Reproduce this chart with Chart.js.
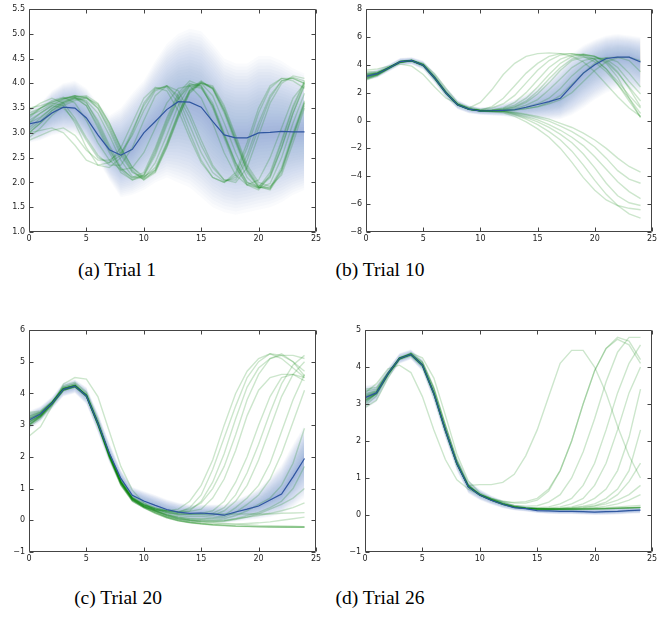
<!DOCTYPE html>
<html>
<head>
<meta charset="utf-8">
<script src="https://cdn.jsdelivr.net/npm/chart.js@4.4.1/dist/chart.umd.min.js"></script>
<style>
  body { margin: 0; background: #fff; width: 667px; height: 618px; position: relative; overflow: hidden; }
  .panel { position: absolute; }
  .cap { position: absolute; width: 200px; text-align: center; white-space: nowrap; color: #000;
         font-family: "Liberation Serif", "Times New Roman", serif; font-size: 19.5px; line-height: 20px; }
</style>
</head>
<body>
<div class="panel" style="left:0;top:0"><canvas id="ca" width="330" height="250"></canvas></div>
<div class="panel" style="left:336px;top:0"><canvas id="cb" width="330" height="250"></canvas></div>
<div class="panel" style="left:0;top:321px"><canvas id="cc" width="330" height="249"></canvas></div>
<div class="panel" style="left:336px;top:321px"><canvas id="cd" width="330" height="249"></canvas></div>
<div class="cap" style="left:17px;top:260px">(a) Trial 1</div>
<div class="cap" style="left:280px;top:260px">(b) Trial 10</div>
<div class="cap" style="left:18px;top:588px">(c) Trial 20</div>
<div class="cap" style="left:280px;top:588px">(d) Trial 26</div>
<script>
/* Trials 1/10/20/26: predicted mean (blue), spread band, sampled rollouts (green) */

// ── Shared x steps ───────────────────────────────────────────────────────────
const steps = [0, 1, 2, 3, 4, 5, 6, 7, 8, 9, 10, 11, 12, 13, 14, 15, 16, 17, 18, 19, 20, 21, 22, 23, 24];

// ── (a) Trial 1 ──────────────────────────────────────────────────────────────
const meanA = [3.18,3.23,3.40,3.52,3.50, 3.30,2.96,2.66,2.55,2.67, 3.00,3.23,3.47,3.63,3.62, 3.52,3.23,2.96,2.90,2.90, 3.00,3.01,3.03,3.02,3.02];
const upA   = [3.50,3.60,3.85,4.00,4.05, 3.90,3.60,3.35,3.50,3.80, 4.05,4.45,4.80,5.00,5.10, 5.05,4.80,4.50,4.40,4.40, 4.55,4.55,4.45,4.30,4.20];
const loA   = [2.80,2.85,2.95,3.00,3.00, 2.80,2.45,2.05,1.70,1.75, 1.85,2.00,2.10,2.00,1.90, 1.70,1.50,1.40,1.35,1.40, 1.45,1.50,1.60,1.75,1.85];
const greenA = [
  [3.00,3.20,3.40,3.58,3.68, 3.72,3.55,3.15,2.65,2.25, 2.05,2.20,2.70,3.30,3.80, 4.00,3.90,3.45,2.85,2.25, 1.92,1.85,2.20,2.90,3.55],
  [3.20,3.32,3.50,3.62,3.72, 3.75,3.60,3.20,2.70,2.30, 2.08,2.22,2.72,3.32,3.82, 4.02,3.92,3.50,2.90,2.30, 1.95,1.88,2.25,2.95,3.60],
  [3.35,3.45,3.58,3.68,3.75, 3.72,3.50,3.05,2.55,2.20, 2.10,2.30,2.80,3.40,3.88, 4.05,3.88,3.40,2.80,2.20, 1.90,1.90,2.30,3.00,3.65],
  [2.90,3.10,3.35,3.55,3.65, 3.70,3.58,3.20,2.70,2.30, 2.12,2.25,2.75,3.35,3.85, 4.00,3.95,3.55,2.95,2.35, 2.00,1.92,2.15,2.80,3.50],
  [3.10,3.30,3.50,3.65,3.72, 3.60,3.25,2.75,2.30,2.08, 2.15,2.60,3.20,3.70,3.98, 3.95,3.60,3.00,2.40,2.00, 1.88,2.10,2.70,3.40,3.98],
  [3.25,3.40,3.55,3.68,3.75, 3.62,3.20,2.70,2.25,2.05, 2.15,2.65,3.25,3.75,4.00, 3.92,3.55,2.95,2.35,1.95, 1.85,2.15,2.80,3.50,4.02],
  [3.00,3.20,3.45,3.60,3.70, 3.55,3.15,2.65,2.28,2.10, 2.20,2.70,3.30,3.80,4.05, 3.95,3.50,2.90,2.30,1.95, 1.90,2.20,2.85,3.55,4.05],
  [3.40,3.50,3.62,3.70,3.72, 3.55,3.10,2.60,2.20,2.05, 2.12,2.55,3.15,3.68,3.95, 3.90,3.55,2.95,2.40,2.00, 1.92,2.12,2.70,3.40,3.95],
  [3.50,3.55,3.62,3.70,3.75, 3.70,3.50,3.10,2.60,2.22, 2.05,2.25,2.78,3.38,3.85, 4.03,3.90,3.45,2.85,2.25, 1.90,1.87,2.25,2.95,3.62],
  [3.05,3.25,3.45,3.62,3.70, 3.65,3.40,2.95,2.45,2.12, 2.08,2.40,2.95,3.55,3.95, 4.00,3.75,3.20,2.60,2.10, 1.88,1.98,2.50,3.20,3.80],
  [3.30,3.50,3.65,3.72,3.60, 3.25,2.80,2.45,2.25,2.30, 2.60,3.10,3.60,3.90,3.95, 3.70,3.20,2.60,2.15,1.95, 2.05,2.50,3.10,3.70,4.00],
  [3.35,3.50,3.60,3.55,3.20, 2.70,2.35,2.30,2.50,3.00, 3.60,3.90,3.92,3.60,3.00, 2.45,2.10,2.00,2.15,2.70, 3.40,3.90,4.10,4.10,4.00],
  [3.20,3.40,3.55,3.50,3.25, 2.85,2.50,2.40,2.55,3.05, 3.55,3.88,3.95,3.70,3.15, 2.60,2.20,2.02,2.10,2.55, 3.20,3.75,4.05,4.12,4.05],
  [3.45,3.60,3.70,3.60,3.30, 2.90,2.55,2.35,2.35,2.70, 3.25,3.75,3.95,3.85,3.40, 2.85,2.35,2.05,2.00,2.30, 2.95,3.60,4.00,4.15,4.10],
  [3.00,3.05,3.10,3.00,2.75, 2.45,2.35,2.40,2.70,3.20, 3.70,3.92,3.85,3.45,2.90, 2.40,2.10,2.00,2.20,2.80, 3.50,3.95,4.10,4.05,3.90],
  [2.85,2.95,3.05,3.10,2.95, 2.65,2.45,2.45,2.60,2.95, 3.45,3.85,3.95,3.75,3.30, 2.75,2.30,2.05,2.05,2.45, 3.10,3.70,4.05,4.10,4.00]
];

// ── (b) Trial 10 ─────────────────────────────────────────────────────────────
const meanB = [3.17,3.36,3.77,4.22,4.29, 3.96,3.05,1.97,1.13,0.82, 0.68,0.70,0.73,0.77,0.95, 1.15,1.35,1.60,2.50,3.40, 4.00,4.45,4.55,4.55,4.20];
const upB   = [3.50,3.70,4.05,4.50,4.55, 4.30,3.45,2.40,1.50,1.10, 0.95,1.00,1.20,1.50,1.90, 2.40,3.00,3.90,4.80,5.40, 5.80,6.10,6.20,6.10,6.00];
const loB   = [2.85,3.05,3.50,3.95,4.00, 3.65,2.70,1.60,0.80,0.50, 0.40,0.35,0.30,0.20,0.10, 0.05,0.05,0.10,0.40,0.90, 1.50,2.00,2.30,2.20,2.00];
const greenB = [
  [3.10,3.30,3.80,4.25,4.30, 4.00,3.10,2.00,1.15,0.90, 1.30,2.20,3.30,4.10,4.60, 4.80,4.85,4.80,4.60,4.20, 3.50,2.60,1.70,0.90,0.30],
  [3.30,3.40,3.80,4.25,4.35, 4.05,3.20,2.10,1.20,0.82, 0.75,1.00,1.60,2.50,3.40, 4.10,4.60,4.80,4.80,4.60, 4.20,3.50,2.60,1.60,0.50],
  [3.50,3.50,3.85,4.20,4.25, 3.90,2.95,1.90,1.10,0.80, 0.70,0.75,0.90,1.30,2.00, 2.90,3.80,4.40,4.70,4.75, 4.60,4.20,3.40,2.40,1.40],
  [2.90,3.20,3.70,4.15,4.30, 4.10,3.35,2.30,1.30,0.85, 0.72,0.72,0.80,1.00,1.40, 2.10,3.00,3.80,4.40,4.70, 4.60,4.30,3.50,2.30,1.00],
  [3.20,3.40,3.80,4.20,4.30, 3.95,3.00,1.95,1.12,0.80, 0.70,0.70,0.75,0.85,1.10, 1.50,2.20,3.00,3.80,4.30, 4.50,4.40,3.80,2.80,1.90],
  [3.00,3.30,3.75,4.20,4.30, 4.00,3.10,2.00,1.15,0.82, 0.70,0.70,0.72,0.80,0.95, 1.20,1.60,2.30,3.20,3.90, 4.40,4.50,4.20,3.40,2.40],
  [3.40,3.45,3.80,4.25,4.30, 3.95,3.05,1.95,1.12,0.80, 0.68,0.68,0.70,0.75,0.85, 1.00,1.30,1.80,2.60,3.40, 4.10,4.50,4.55,4.30,3.50],
  [3.10,3.35,3.75,4.20,4.28, 3.98,3.08,2.00,1.15,0.82, 0.70,0.70,0.72,0.76,0.85, 0.98,1.20,1.50,2.00,2.80, 3.60,4.20,4.50,4.55,4.30],
  [3.25,3.40,3.78,4.22,4.30, 3.98,3.05,1.98,1.14,0.82, 0.70,0.72,0.80,0.95,1.30, 1.90,2.70,3.60,4.30,4.55, 4.40,3.70,2.60,1.40,0.25],
  [2.95,3.25,3.72,4.18,4.28, 4.02,3.15,2.05,1.18,0.84, 0.72,0.75,0.85,1.10,1.60, 2.40,3.30,4.10,4.60,4.75, 4.60,4.10,3.10,1.60,0.20],
  [3.60,3.70,3.90,4.05,3.90, 3.30,2.40,1.60,1.20,0.95, 0.80,0.90,1.20,1.80,2.70, 3.60,4.30,4.70,4.80,4.70, 4.40,3.70,2.80,1.80,0.90],
  [3.15,3.35,3.78,4.22,4.28, 3.95,3.02,1.95,1.12,0.80, 0.68,0.62,0.55,0.30,-0.10, -0.60,-1.20,-2.00,-3.00,-4.10, -5.00,-5.70,-6.10,-6.30,-6.40],
  [3.05,3.30,3.75,4.20,4.28, 3.95,3.05,1.98,1.14,0.82, 0.70,0.65,0.60,0.40,0.10, -0.30,-0.80,-1.40,-2.20,-3.20, -4.30,-5.30,-6.10,-6.70,-7.00],
  [3.30,3.40,3.80,4.22,4.30, 3.98,3.05,1.98,1.14,0.82, 0.70,0.68,0.65,0.45,0.20, -0.10,-0.50,-1.00,-1.60,-2.40, -3.40,-4.50,-5.40,-5.90,-6.10],
  [3.20,3.38,3.78,4.22,4.30, 3.96,3.04,1.96,1.13,0.81, 0.69,0.69,0.66,0.50,0.30, 0.05,-0.30,-0.70,-1.20,-1.80, -2.60,-3.50,-4.40,-5.10,-5.60],
  [3.00,3.28,3.74,4.20,4.28, 3.96,3.06,1.98,1.14,0.82, 0.70,0.70,0.68,0.55,0.40, 0.20,-0.05,-0.40,-0.80,-1.30, -1.90,-2.70,-3.60,-4.20,-4.50],
  [3.35,3.42,3.80,4.24,4.30, 3.96,3.04,1.96,1.13,0.81, 0.69,0.69,0.68,0.60,0.45, 0.30,0.10,-0.20,-0.50,-0.90, -1.40,-2.00,-2.70,-3.30,-3.70]
];

// ── (c) Trial 20 ─────────────────────────────────────────────────────────────
const meanC = [3.16,3.35,3.69,4.13,4.23, 3.92,3.06,2.11,1.32,0.79, 0.61,0.47,0.34,0.26,0.22, 0.23,0.20,0.16,0.26,0.35, 0.45,0.64,0.83,1.37,1.95];
const upC   = [3.45,3.60,3.90,4.35,4.45, 4.20,3.40,2.45,1.60,1.05, 0.92,0.80,0.66,0.56,0.50, 0.50,0.50,0.50,0.65,0.80, 1.00,1.35,1.75,2.40,3.00];
const loC   = [2.85,3.10,3.50,3.90,4.00, 3.65,2.75,1.80,1.05,0.55, 0.35,0.20,0.05,-0.05,-0.10, -0.10,-0.10,-0.10,-0.05,0.00, 0.05,0.10,0.20,0.40,0.70];
const greenC = [
  [3.00,3.30,3.70,4.20,4.30, 3.90,3.00,1.95,1.10,0.60, 0.40,0.22,0.08,-0.02,-0.08, -0.12,-0.15,-0.17,-0.19,-0.20, -0.21,-0.22,-0.22,-0.22,-0.22],
  [3.20,3.35,3.72,4.25,4.35, 4.05,3.20,2.10,1.20,0.65, 0.42,0.25,0.10,0.00,-0.06, -0.10,-0.14,-0.16,-0.18,-0.19, -0.20,-0.21,-0.21,-0.22,-0.22],
  [3.40,3.45,3.75,4.20,4.30, 4.00,3.10,2.00,1.12,0.62, 0.40,0.22,0.08,-0.02,-0.07, -0.11,-0.14,-0.16,-0.18,-0.19, -0.20,-0.20,-0.21,-0.21,-0.21],
  [2.65,2.95,3.60,4.30,4.50, 4.45,3.90,2.80,1.70,0.95, 0.55,0.30,0.15,0.05,0.00, -0.05,-0.08,-0.10,-0.12,-0.14, -0.16,-0.17,-0.18,-0.19,-0.20],
  [3.02,3.26,3.66,4.12,4.22, 3.92,3.02,1.98,1.12,0.62, 0.40,0.24,0.10,0.00,-0.06, -0.10,-0.12,-0.12,-0.12,-0.10, -0.08,-0.05,0.00,0.05,0.10],
  [3.10,3.30,3.70,4.15,4.25, 3.95,3.05,2.00,1.15,0.65, 0.42,0.32,0.30,0.35,0.60, 1.10,1.90,3.00,4.00,4.70, 5.10,5.25,5.10,4.80,4.50],
  [3.25,3.38,3.70,4.10,4.20, 3.90,3.05,2.10,1.30,0.75, 0.55,0.40,0.30,0.25,0.40, 0.80,1.60,2.60,3.60,4.50, 5.00,5.25,5.20,5.00,4.70],
  [3.00,3.25,3.65,4.10,4.22, 3.95,3.10,2.10,1.25,0.70, 0.48,0.35,0.28,0.25,0.30, 0.60,1.20,2.10,3.20,4.20, 4.80,5.10,5.20,5.20,5.10],
  [3.12,3.32,3.70,4.14,4.24, 3.94,3.06,2.06,1.22,0.70, 0.50,0.38,0.30,0.28,0.35, 0.55,1.00,1.70,2.70,3.80, 4.60,5.10,5.25,5.00,4.55],
  [3.30,3.40,3.72,4.15,4.25, 3.92,3.00,2.00,1.20,0.70, 0.50,0.38,0.30,0.26,0.28, 0.35,0.70,1.30,2.20,3.30, 4.10,4.50,4.60,4.60,4.50],
  [3.15,3.32,3.70,4.15,4.25, 3.95,3.05,2.05,1.20,0.68, 0.48,0.35,0.25,0.20,0.20, 0.22,0.30,0.60,1.20,2.00, 3.00,3.90,4.50,4.60,4.40],
  [2.95,3.20,3.62,4.10,4.22, 3.95,3.10,2.10,1.25,0.72, 0.50,0.36,0.26,0.20,0.18, 0.18,0.22,0.40,0.80,1.50, 2.40,3.40,4.30,4.90,5.20],
  [3.20,3.36,3.70,4.15,4.25, 3.92,3.05,2.05,1.20,0.70, 0.48,0.34,0.22,0.15,0.12, 0.12,0.15,0.30,0.60,1.10, 1.90,2.90,3.90,4.60,5.00],
  [3.05,3.28,3.68,4.12,4.22, 3.92,3.05,2.05,1.20,0.68, 0.45,0.30,0.18,0.10,0.06, 0.05,0.08,0.15,0.40,0.70, 1.10,1.80,2.80,3.80,4.60],
  [3.35,3.42,3.72,4.15,4.25, 3.94,3.04,2.02,1.18,0.66, 0.44,0.30,0.18,0.10,0.05, 0.03,0.05,0.10,0.25,0.50, 0.80,1.30,2.10,3.10,4.10],
  [3.10,3.30,3.68,4.12,4.22, 3.92,3.05,2.04,1.18,0.66, 0.44,0.30,0.18,0.08,0.02, 0.00,0.00,0.05,0.15,0.30, 0.50,0.70,1.10,1.80,2.90],
  [3.00,3.25,3.65,4.10,4.20, 3.90,3.04,2.04,1.20,0.68, 0.45,0.30,0.16,0.06,0.00, -0.03,-0.04,-0.02,0.05,0.15, 0.25,0.40,0.60,1.00,1.70],
  [3.22,3.36,3.70,4.14,4.24, 3.93,3.06,2.08,1.22,0.70, 0.48,0.34,0.24,0.20,0.20, 0.20,0.20,0.20,0.20,0.20, 0.20,0.20,0.22,0.23,0.24],
  [3.08,3.30,3.70,4.15,4.25, 3.95,3.06,2.04,1.18,0.66, 0.44,0.28,0.14,0.05,0.00, -0.02,-0.02,0.00,0.05,0.10, 0.15,0.22,0.30,0.40,0.55],
  [3.28,3.40,3.72,4.16,4.25, 3.93,3.04,2.02,1.16,0.64, 0.42,0.26,0.12,0.03,-0.03, -0.05,-0.05,-0.03,0.02,0.10, 0.20,0.35,0.50,0.70,1.00]
];

// ── (d) Trial 26 ─────────────────────────────────────────────────────────────
const meanD = [3.17,3.30,3.82,4.23,4.34, 4.05,3.28,2.29,1.39,0.76, 0.54,0.40,0.29,0.20,0.17, 0.12,0.11,0.10,0.10,0.09, 0.08,0.09,0.10,0.12,0.13];
const upD   = [3.50,3.55,3.98,4.38,4.48, 4.22,3.50,2.52,1.60,0.95, 0.70,0.53,0.40,0.29,0.25, 0.21,0.20,0.19,0.19,0.19, 0.18,0.19,0.20,0.21,0.22];
const loD   = [2.85,3.05,3.66,4.08,4.20, 3.88,3.05,2.06,1.18,0.58, 0.40,0.28,0.18,0.12,0.09, 0.05,0.03,0.02,0.02,0.01, 0.00,0.00,0.01,0.03,0.04];
const greenD = [
  [3.00,3.30,3.80,4.25,4.35, 4.10,3.40,2.40,1.45,0.80, 0.55,0.42,0.30,0.22,0.18, 0.16,0.15,0.15,0.15,0.16, 0.16,0.17,0.18,0.19,0.20],
  [3.20,3.32,3.82,4.25,4.38, 4.15,3.45,2.45,1.50,0.82, 0.56,0.42,0.30,0.22,0.18, 0.16,0.16,0.16,0.16,0.17, 0.17,0.18,0.19,0.20,0.21],
  [3.40,3.45,3.85,4.22,4.32, 4.05,3.30,2.30,1.40,0.78, 0.54,0.40,0.29,0.21,0.18, 0.16,0.15,0.15,0.15,0.15, 0.16,0.17,0.18,0.19,0.20],
  [2.90,3.10,3.70,4.20,4.38, 4.25,3.70,2.70,1.65,0.92, 0.60,0.45,0.32,0.23,0.19, 0.17,0.16,0.16,0.16,0.16, 0.17,0.17,0.18,0.19,0.20],
  [3.10,3.28,3.78,4.24,4.36, 4.12,3.42,2.42,1.47,0.81, 0.55,0.41,0.30,0.22,0.18, 0.16,0.16,0.16,0.16,0.16, 0.17,0.18,0.19,0.20,0.21],
  [3.30,3.55,3.95,4.05,3.85, 3.20,2.30,1.50,0.95,0.70, 0.55,0.45,0.35,0.25,0.20, 0.17,0.16,0.16,0.17,0.18, 0.19,0.20,0.22,0.24,0.26],
  [3.10,3.30,3.80,4.20,4.30, 4.00,3.25,2.25,1.35,0.80, 0.82,0.82,0.88,1.10,1.60, 2.30,3.20,4.10,4.45,4.45, 4.00,3.30,2.40,1.60,1.00],
  [3.25,3.35,3.85,4.25,4.35, 4.05,3.30,2.30,1.40,0.78, 0.56,0.45,0.38,0.32,0.32, 0.40,0.65,1.20,2.00,3.00, 3.90,4.50,4.75,4.60,4.10],
  [3.22,3.33,3.82,4.23,4.34, 4.05,3.28,2.29,1.39,0.76, 0.54,0.42,0.36,0.34,0.36, 0.45,0.70,1.20,2.00,3.00, 3.90,4.50,4.80,4.70,4.20],
  [3.05,3.28,3.80,4.22,4.34, 4.06,3.30,2.30,1.40,0.78, 0.55,0.42,0.32,0.26,0.24, 0.25,0.35,0.55,1.00,1.70, 2.60,3.60,4.40,4.80,4.80],
  [3.15,3.30,3.82,4.24,4.35, 4.06,3.29,2.29,1.39,0.77, 0.55,0.41,0.30,0.23,0.20, 0.20,0.22,0.30,0.45,0.80, 1.40,2.30,3.30,4.10,4.60],
  [3.35,3.40,3.84,4.24,4.34, 4.04,3.27,2.28,1.38,0.76, 0.54,0.40,0.29,0.22,0.19, 0.18,0.19,0.22,0.30,0.45, 0.80,1.40,2.30,3.30,4.00],
  [2.95,3.22,3.78,4.22,4.33, 4.06,3.30,2.30,1.40,0.77, 0.55,0.41,0.30,0.22,0.19, 0.18,0.18,0.19,0.22,0.30, 0.45,0.70,1.20,2.10,3.40],
  [3.18,3.31,3.82,4.23,4.34, 4.05,3.28,2.29,1.39,0.76, 0.54,0.40,0.29,0.21,0.18, 0.17,0.17,0.18,0.20,0.24, 0.30,0.45,0.70,1.20,2.30],
  [3.08,3.27,3.80,4.22,4.33, 4.05,3.28,2.29,1.39,0.76, 0.54,0.40,0.29,0.21,0.18, 0.17,0.17,0.17,0.19,0.22, 0.25,0.35,0.55,0.90,1.40],
  [3.28,3.36,3.83,4.24,4.34, 4.05,3.28,2.29,1.39,0.76, 0.54,0.40,0.29,0.21,0.18, 0.16,0.16,0.17,0.18,0.20, 0.24,0.30,0.40,0.55,0.80],
  [3.12,3.29,3.81,4.23,4.34, 4.05,3.28,2.29,1.39,0.76, 0.54,0.40,0.29,0.21,0.18, 0.16,0.16,0.16,0.17,0.18, 0.20,0.24,0.30,0.40,0.55]
];

// ── Styling ──────────────────────────────────────────────────────────────────
const BAND_LAYERS = 24;
const BAND_COLOR  = 'rgba(76,114,176,0.026)';
const GREEN_COLOR = 'rgba(0,128,0,0.2)';
const MEAN_COLOR  = '#2f56a0';
const TICK_FONT   = { family: '"DejaVu Sans", sans-serif', size: 8 };

const PANELS = [
  { id: 'ca', yw: 29, mean: meanA, up: upA, lo: loA, greens: greenA, ymin: 1,  ymax: 5.5, step: 0.5, dec: 1 },
  { id: 'cb', yw: 30, mean: meanB, up: upB, lo: loB, greens: greenB, ymin: -8, ymax: 8,   step: 2,   dec: 0 },
  { id: 'cc', yw: 29, mean: meanC, up: upC, lo: loC, greens: greenC, ymin: -1, ymax: 6,   step: 1,   dec: 0 },
  { id: 'cd', yw: 29, mean: meanD, up: upD, lo: loD, greens: greenD, ymin: -1, ymax: 5,   step: 1,   dec: 0 }
];

// ── Helpers ──────────────────────────────────────────────────────────────────
function pts(vals) {
  return vals.map((v, i) => ({ x: steps[i], y: v }));
}

function fmtTick(v, dec) {
  if (dec) return v.toFixed(dec);
  return v < 0 ? '\u2212' + Math.abs(v) : String(v);
}

// matplotlib-style frame with inward ticks on all four sides
const framePlugin = {
  id: 'frame',
  afterDatasetsDraw(chart) {
    const { ctx, chartArea: a, scales: { x, y } } = chart;
    const L = Math.round(a.left) + 0.5, R = Math.round(a.right) - 0.5;
    const T = Math.round(a.top) + 0.5,  B = Math.round(a.bottom) - 0.5;
    ctx.save();
    ctx.strokeStyle = '#444';
    ctx.lineWidth = 1;
    ctx.beginPath();
    x.ticks.forEach(t => {
      const px = Math.round(x.getPixelForValue(t.value)) + 0.5;
      ctx.moveTo(px, B); ctx.lineTo(px, B - 4);
      ctx.moveTo(px, T); ctx.lineTo(px, T + 4);
    });
    y.ticks.forEach(t => {
      const py = Math.round(y.getPixelForValue(t.value)) + 0.5;
      ctx.moveTo(L, py); ctx.lineTo(L + 4, py);
      ctx.moveTo(R, py); ctx.lineTo(R - 4, py);
    });
    ctx.rect(L, T, R - L, B - T);
    ctx.stroke();
    ctx.restore();
  }
};

// ── Build one panel ──────────────────────────────────────────────────────────
function buildPanel(p) {
  const datasets = [];

  datasets.push({
    data: pts(p.mean), borderColor: MEAN_COLOR, borderWidth: 1.2,
    pointRadius: 0, fill: false, tension: 0
  });

  p.greens.forEach(g => datasets.push({
    data: pts(g), borderColor: GREEN_COLOR, borderWidth: 1.4,
    pointRadius: 0, fill: false, tension: 0
  }));

  // nested spread layers (a soft gradient out from the mean)
  for (let k = 1; k <= BAND_LAYERS; k++) {
    const f = k / BAND_LAYERS;
    const top = p.mean.map((m, i) => m + f * (p.up[i] - m));
    const bot = p.mean.map((m, i) => m - f * (m - p.lo[i]));
    datasets.push({ data: pts(top), borderWidth: 0, borderColor: 'rgba(0,0,0,0)',
                    pointRadius: 0, fill: '+1', backgroundColor: BAND_COLOR });
    datasets.push({ data: pts(bot), borderWidth: 0, borderColor: 'rgba(0,0,0,0)',
                    pointRadius: 0, fill: false });
  }

  new Chart(document.getElementById(p.id), {
    type: 'line',
    data: { datasets },
    plugins: [framePlugin],
    options: {
      responsive: false,
      animation: false,
      devicePixelRatio: 1,
      layout: { padding: { top: 9, right: 14, left: 0, bottom: 0 } },
      plugins: { legend: { display: false }, tooltip: { enabled: false } },
      scales: {
        x: {
          type: 'linear', min: 0, max: 25,
          grid: { display: false, drawTicks: false }, border: { display: false },
          ticks: { stepSize: 5, font: TICK_FONT, color: '#222', padding: 2, maxRotation: 0 },
          afterFit: s => { s.height = 18; }
        },
        y: {
          min: p.ymin, max: p.ymax,
          grid: { display: false, drawTicks: false }, border: { display: false },
          ticks: { stepSize: p.step, font: TICK_FONT, color: '#222', padding: 4,
                   callback: v => fmtTick(v, p.dec) },
          afterFit: s => { s.width = p.yw; }
        }
      }
    }
  });
}

PANELS.forEach(buildPanel);
</script>
</body>
</html>
